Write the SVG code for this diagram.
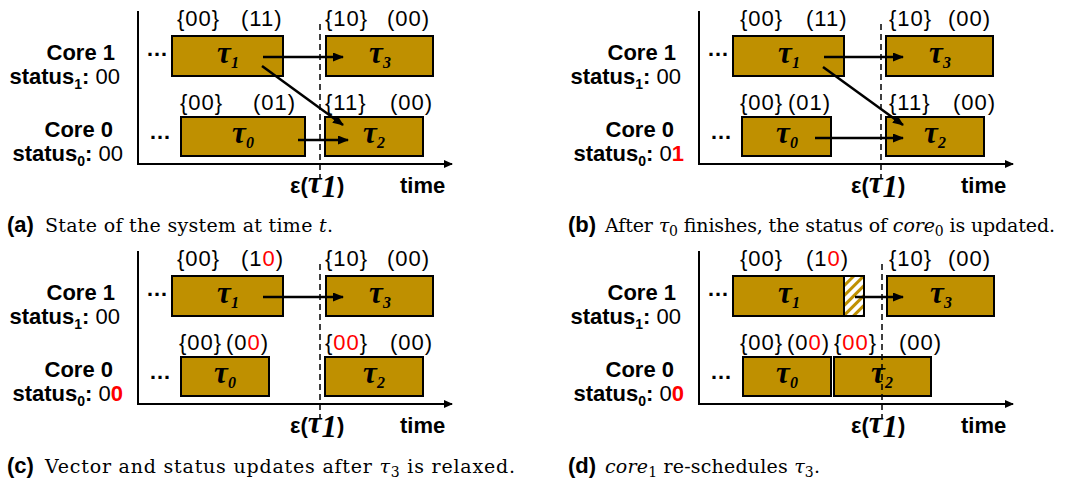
<svg xmlns="http://www.w3.org/2000/svg" width="1073" height="486" viewBox="0 0 1073 486">
<style>
.bg{fill:#fff}
.box{fill:#BF9000;stroke:#000;stroke-width:2}
.hatch{fill:url(#hp);stroke:#000;stroke-width:2}
.lbl{font-family:'Liberation Sans',Arial,sans-serif;font-size:22px;letter-spacing:1px;fill:#000}
.core{font-family:'Liberation Sans',Arial,sans-serif;font-size:22px;font-weight:bold;fill:#000}
.tau{font-family:'Liberation Serif','Times New Roman',serif;font-size:31px;font-weight:bold;font-style:italic;fill:#000}
.axis{stroke:#000;stroke-width:2;fill:none}
.arr{stroke:#000;stroke-width:2.5;fill:none}
.dash{stroke:#000;stroke-width:1.5;stroke-dasharray:6 4}
.red{fill:#FF0000}
.capb{font-family:'Liberation Sans',Arial,sans-serif;font-size:22px;font-weight:bold;fill:#000}
.cap{font-family:'DejaVu Serif','Liberation Serif',serif;font-size:19px;fill:#000}
</style>
<defs>
<marker id="ah" markerUnits="userSpaceOnUse" markerWidth="11" markerHeight="9" refX="10" refY="4.5" orient="auto"><path d="M0,0 L11,4.5 L0,9 z" fill="#000"/></marker>
<marker id="axh" markerUnits="userSpaceOnUse" markerWidth="9" markerHeight="8" refX="8" refY="4" orient="auto"><path d="M0,0 L9,4 L0,8 z" fill="#000"/></marker>
<pattern id="hp" patternUnits="userSpaceOnUse" width="7" height="7" patternTransform="rotate(45)"><rect width="7" height="7" fill="#fff"/><rect width="3" height="7" fill="#BF9000"/></pattern>
</defs>
<rect class="bg" width="1073" height="486"/>

<!-- Panel a -->
<g id="panel-a">
  <g id="a-axes">
    <path class="axis" d="M138,11 V164 H452" marker-end="url(#axh)"/>
    <text class="core" x="400" y="193">time</text>
    <text class="core" x="290" y="193">ε(<tspan class="tau" font-size="27">τ</tspan><tspan class="tau" font-size="14" dy="4">1</tspan><tspan dy="-4">)</tspan></text>
  </g>
  <g id="a-core1"><text class="core" x="115" y="60" text-anchor="end">Core 1</text><text class="core" x="120" y="84" text-anchor="end">status<tspan font-size="14" dy="5">1</tspan><tspan dy="-5">:</tspan><tspan font-weight="normal"> 00</tspan></text><text class="core" x="146" y="56">…</text></g>
  <g id="a-core0"><text class="core" x="113" y="137" text-anchor="end">Core 0</text><text class="core" x="123" y="161" text-anchor="end">status<tspan font-size="14" dy="5">0</tspan><tspan dy="-5">:</tspan><tspan font-weight="normal"> 00</tspan></text><text class="core" x="149" y="139">…</text></g>
  <g id="a-tau1"><rect class="box" x="172" y="36" width="111" height="40"/><text class="tau" x="228" y="63" text-anchor="middle">τ<tspan font-size="16" dy="5">1</tspan></text><text class="lbl" x="177" y="26">{00}</text><text class="lbl" x="241" y="26">(11)</text></g>
  <g id="a-tau3"><rect class="box" x="326" y="36" width="107" height="40"/><text class="tau" x="380" y="63" text-anchor="middle">τ<tspan font-size="16" dy="5">3</tspan></text><text class="lbl" x="325" y="26">{10}</text><text class="lbl" x="387" y="26">(00)</text></g>
  <g id="a-tau0"><rect class="box" x="181" y="117" width="124" height="39"/><text class="tau" x="243" y="143" text-anchor="middle">τ<tspan font-size="16" dy="5">0</tspan></text><text class="lbl" x="180" y="110">{00}</text><text class="lbl" x="253" y="110">(01)</text></g>
  <g id="a-tau2"><rect class="box" x="325" y="117" width="98" height="39"/><text class="tau" x="374" y="143" text-anchor="middle">τ<tspan font-size="16" dy="5">2</tspan></text><text class="lbl" x="325" y="110">{11}</text><text class="lbl" x="390" y="110">(00)</text></g>
  <g id="a-connectors">
    <line class="arr" x1="263" y1="57" x2="343" y2="57" marker-end="url(#ah)"/>
    <line class="arr" x1="262" y1="66" x2="343" y2="125" marker-end="url(#ah)"/>
    <line class="arr" x1="298" y1="140" x2="348" y2="140" marker-end="url(#ah)"/>
    <line class="dash" x1="320" y1="24" x2="320" y2="178"/>
  </g>
</g>

<!-- Panel b -->
<g id="panel-b" transform="translate(561,0)">
  <g id="b-axes">
    <path class="axis" d="M138,11 V164 H452" marker-end="url(#axh)"/>
    <text class="core" x="400" y="193">time</text>
    <text class="core" x="290" y="193">ε(<tspan class="tau" font-size="27">τ</tspan><tspan class="tau" font-size="14" dy="4">1</tspan><tspan dy="-4">)</tspan></text>
  </g>
  <g id="b-core1"><text class="core" x="115" y="60" text-anchor="end">Core 1</text><text class="core" x="120" y="84" text-anchor="end">status<tspan font-size="14" dy="5">1</tspan><tspan dy="-5">:</tspan><tspan font-weight="normal"> 00</tspan></text><text class="core" x="146" y="56">…</text></g>
  <g id="b-core0"><text class="core" x="113" y="137" text-anchor="end">Core 0</text><text class="core" x="123" y="161" text-anchor="end">status<tspan font-size="14" dy="5">0</tspan><tspan dy="-5">:</tspan><tspan font-weight="normal"> 0</tspan><tspan class="red">1</tspan></text><text class="core" x="149" y="139">…</text></g>
  <g id="b-tau1"><rect class="box" x="172" y="36" width="111" height="40"/><text class="tau" x="228" y="63" text-anchor="middle">τ<tspan font-size="16" dy="5">1</tspan></text><text class="lbl" x="179" y="26">{00}</text><text class="lbl" x="245" y="26">(11)</text></g>
  <g id="b-tau3"><rect class="box" x="325" y="36" width="107" height="40"/><text class="tau" x="379" y="63" text-anchor="middle">τ<tspan font-size="16" dy="5">3</tspan></text><text class="lbl" x="328" y="26">{10}</text><text class="lbl" x="387" y="26">(00)</text></g>
  <g id="b-tau0"><rect class="box" x="181" y="117" width="89" height="39"/><text class="tau" x="226" y="143" text-anchor="middle">τ<tspan font-size="16" dy="5">0</tspan></text><text class="lbl" x="179" y="110">{00}</text><text class="lbl" x="227" y="110">(01)</text></g>
  <g id="b-tau2"><rect class="box" x="325" y="117" width="98" height="39"/><text class="tau" x="374" y="143" text-anchor="middle">τ<tspan font-size="16" dy="5">2</tspan></text><text class="lbl" x="328" y="110">{11}</text><text class="lbl" x="392" y="110">(00)</text></g>
  <g id="b-connectors">
    <line class="arr" x1="263" y1="57" x2="342" y2="57" marker-end="url(#ah)"/>
    <line class="arr" x1="262" y1="67" x2="342" y2="125" marker-end="url(#ah)"/>
    <line class="arr" x1="254" y1="138" x2="342" y2="138" marker-end="url(#ah)"/>
    <line class="dash" x1="320" y1="24" x2="320" y2="178"/>
  </g>
</g>

<!-- Panel c -->
<g id="panel-c" transform="translate(0,240)">
  <g id="c-axes">
    <path class="axis" d="M138,11 V164 H452" marker-end="url(#axh)"/>
    <text class="core" x="400" y="193">time</text>
    <text class="core" x="290" y="193">ε(<tspan class="tau" font-size="27">τ</tspan><tspan class="tau" font-size="14" dy="4">1</tspan><tspan dy="-4">)</tspan></text>
  </g>
  <g id="c-core1"><text class="core" x="115" y="60" text-anchor="end">Core 1</text><text class="core" x="120" y="84" text-anchor="end">status<tspan font-size="14" dy="5">1</tspan><tspan dy="-5">:</tspan><tspan font-weight="normal"> 00</tspan></text><text class="core" x="146" y="56">…</text></g>
  <g id="c-core0"><text class="core" x="113" y="137" text-anchor="end">Core 0</text><text class="core" x="123" y="161" text-anchor="end">status<tspan font-size="14" dy="5">0</tspan><tspan dy="-5">:</tspan><tspan font-weight="normal"> 0</tspan><tspan class="red">0</tspan></text><text class="core" x="149" y="139">…</text></g>
  <g id="c-tau1"><rect class="box" x="172" y="36" width="111" height="40"/><text class="tau" x="228" y="63" text-anchor="middle">τ<tspan font-size="16" dy="5">1</tspan></text><text class="lbl" x="177" y="26">{00}</text><text class="lbl" x="241" y="26">(1<tspan class="red">0</tspan>)</text></g>
  <g id="c-tau3"><rect class="box" x="326" y="36" width="107" height="40"/><text class="tau" x="380" y="63" text-anchor="middle">τ<tspan font-size="16" dy="5">3</tspan></text><text class="lbl" x="325" y="26">{10}</text><text class="lbl" x="387" y="26">(00)</text></g>
  <g id="c-tau0"><rect class="box" x="181" y="117" width="88" height="39"/><text class="tau" x="225" y="143" text-anchor="middle">τ<tspan font-size="16" dy="5">0</tspan></text><text class="lbl" x="179" y="110">{00}</text><text class="lbl" x="226" y="110">(0<tspan class="red">0</tspan>)</text></g>
  <g id="c-tau2"><rect class="box" x="325" y="117" width="98" height="39"/><text class="tau" x="374" y="143" text-anchor="middle">τ<tspan font-size="16" dy="5">2</tspan></text><text class="lbl" x="325" y="110">{<tspan class="red">00</tspan>}</text><text class="lbl" x="390" y="110">(00)</text></g>
  <g id="c-connectors">
    <line class="arr" x1="263" y1="57" x2="343" y2="57" marker-end="url(#ah)"/>
    <line class="dash" x1="320" y1="24" x2="320" y2="178"/>
  </g>
</g>

<!-- Panel d -->
<g id="panel-d" transform="translate(561,240)">
  <g id="d-axes">
    <path class="axis" d="M138,11 V164 H452" marker-end="url(#axh)"/>
    <text class="core" x="400" y="193">time</text>
    <text class="core" x="290" y="193">ε(<tspan class="tau" font-size="27">τ</tspan><tspan class="tau" font-size="14" dy="4">1</tspan><tspan dy="-4">)</tspan></text>
  </g>
  <g id="d-core1"><text class="core" x="115" y="60" text-anchor="end">Core 1</text><text class="core" x="120" y="84" text-anchor="end">status<tspan font-size="14" dy="5">1</tspan><tspan dy="-5">:</tspan><tspan font-weight="normal"> 00</tspan></text><text class="core" x="146" y="56">…</text></g>
  <g id="d-core0"><text class="core" x="113" y="137" text-anchor="end">Core 0</text><text class="core" x="123" y="161" text-anchor="end">status<tspan font-size="14" dy="5">0</tspan><tspan dy="-5">:</tspan><tspan font-weight="normal"> 0</tspan><tspan class="red">0</tspan></text><text class="core" x="149" y="139">…</text></g>
  <g id="d-tau1"><rect class="box" x="172" y="36" width="111" height="40"/><text class="tau" x="228" y="63" text-anchor="middle">τ<tspan font-size="16" dy="5">1</tspan></text><text class="lbl" x="179" y="26">{00}</text><text class="lbl" x="245" y="26">(1<tspan class="red">0</tspan>)</text></g>
  <g id="d-slack"><rect class="hatch" x="283" y="36" width="20" height="40"/></g>
  <g id="d-tau3"><rect class="box" x="326" y="36" width="107" height="40"/><text class="tau" x="380" y="63" text-anchor="middle">τ<tspan font-size="16" dy="5">3</tspan></text><text class="lbl" x="328" y="26">{10}</text><text class="lbl" x="387" y="26">(00)</text></g>
  <g id="d-tau0"><rect class="box" x="182" y="117" width="88" height="39"/><text class="tau" x="226" y="143" text-anchor="middle">τ<tspan font-size="16" dy="5">0</tspan></text><text class="lbl" x="179" y="110">{00}</text><text class="lbl" x="226" y="110">(0<tspan class="red">0</tspan>)</text></g>
  <g id="d-tau2"><rect class="box" x="273" y="117" width="97" height="39"/><text class="tau" x="321" y="143" text-anchor="middle">τ<tspan font-size="16" dy="5">2</tspan></text><text class="lbl" x="273" y="110">{<tspan class="red">00</tspan>}</text><text class="lbl" x="338" y="110">(00)</text></g>
  <g id="d-connectors">
    <line class="arr" x1="294" y1="57" x2="342" y2="57" marker-end="url(#ah)"/>
    <line class="dash" x1="321" y1="24" x2="321" y2="178"/>
  </g>
</g>

<!-- Captions -->
<g id="captions">
  <text class="capb" x="7" y="232">(a)</text>
  <text class="cap" x="45" y="232" textLength="288" lengthAdjust="spacing">State of the system at time <tspan font-style="italic">t</tspan>.</text>
  <text class="capb" x="568" y="232">(b)</text>
  <text class="cap" x="605" y="232" textLength="450" lengthAdjust="spacing">After <tspan font-style="italic">τ</tspan><tspan font-size="14" dy="4">0</tspan><tspan dy="-4"> finishes, the status of </tspan><tspan font-style="italic">core</tspan><tspan font-size="14" dy="4">0</tspan><tspan dy="-4"> is updated.</tspan></text>
  <text class="capb" x="7" y="473">(c)</text>
  <text class="cap" x="45" y="473" textLength="470" lengthAdjust="spacing">Vector and status updates after <tspan font-style="italic">τ</tspan><tspan font-size="14" dy="4">3</tspan><tspan dy="-4"> is relaxed.</tspan></text>
  <text class="capb" x="568" y="473">(d)</text>
  <text class="cap" x="605" y="473" textLength="215" lengthAdjust="spacing"><tspan font-style="italic">core</tspan><tspan font-size="14" dy="4">1</tspan><tspan dy="-4"> re-schedules </tspan><tspan font-style="italic">τ</tspan><tspan font-size="14" dy="4">3</tspan><tspan dy="-4">.</tspan></text>
</g>
</svg>
